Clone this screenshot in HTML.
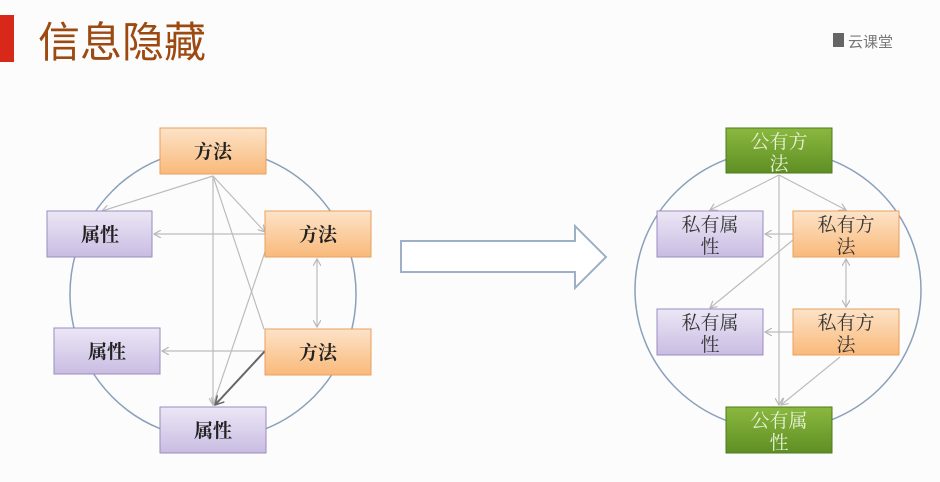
<!DOCTYPE html>
<html><head><meta charset="utf-8"><style>
body{margin:0;width:940px;height:482px;background:#fcfcfc;overflow:hidden}
svg{display:block}
text{font-family:"Liberation Serif","Noto Serif CJK SC",serif}
</style></head><body>
<svg width="940" height="482" viewBox="0 0 940 482" xmlns="http://www.w3.org/2000/svg">
<defs>
<linearGradient id="or" x1="0" y1="0" x2="0" y2="1"><stop offset="0" stop-color="#fde3c8"/><stop offset="1" stop-color="#f9b97a"/></linearGradient>
<linearGradient id="pu" x1="0" y1="0" x2="0" y2="1"><stop offset="0" stop-color="#ece7f6"/><stop offset="1" stop-color="#c9bce2"/></linearGradient>
<linearGradient id="gr" x1="0" y1="0" x2="0" y2="1"><stop offset="0" stop-color="#8ab83f"/><stop offset="1" stop-color="#5f8f24"/></linearGradient>
<marker id="ar" markerWidth="8" markerHeight="8" refX="7" refY="4" orient="auto-start-reverse" markerUnits="userSpaceOnUse"><path d="M0,0 L7,4 L0,8" fill="none" stroke="#b8b8b8" stroke-width="1.2"/></marker>
<marker id="ar2" markerWidth="10" markerHeight="10" refX="9" refY="5" orient="auto" markerUnits="userSpaceOnUse"><path d="M0,0 L9,5 L0,10" fill="none" stroke="#666" stroke-width="1.5"/></marker>
</defs>
<rect x="0" y="15" width="14" height="47" fill="#d8281a"/>
<text x="38" y="57" style="font-family:'Liberation Sans','Noto Sans CJK SC',sans-serif" font-size="42" fill="#9c4a12">信息隐藏</text>
<rect x="833" y="33" width="11" height="14" fill="#666"/>
<text x="848" y="47" style="font-family:'Liberation Sans','Noto Sans CJK SC',sans-serif" font-size="15" fill="#777">云课堂</text>

<!-- left -->
<ellipse cx="213" cy="294" rx="143" ry="145" fill="none" stroke="#8aa0bb" stroke-width="1.5"/>
<g stroke="#bcbcbc" stroke-width="1.2" fill="none">
<line x1="213" y1="176" x2="102" y2="211" marker-end="url(#ar)"/>
<line x1="265" y1="234" x2="154" y2="234" marker-end="url(#ar)"/>
<line x1="213" y1="176" x2="265" y2="232" marker-end="url(#ar)"/>
<line x1="213" y1="176" x2="213" y2="405" marker-end="url(#ar)"/>
<line x1="213" y1="176" x2="264" y2="329"/>
<line x1="265" y1="252" x2="213" y2="405" marker-end="url(#ar)"/>
<line x1="317" y1="259" x2="317" y2="327" marker-end="url(#ar)" marker-start="url(#ar)"/>
<line x1="265" y1="351" x2="162" y2="351" marker-end="url(#ar)"/>
</g>
<line x1="265" y1="351" x2="215" y2="405" stroke="#666" stroke-width="2" marker-end="url(#ar2)"/>
<g stroke-width="1">
<rect x="160" y="128" width="106" height="46" fill="url(#or)" stroke="#e8a060"/>
<rect x="47" y="211" width="105" height="46" fill="url(#pu)" stroke="#9a8cc0"/>
<rect x="265" y="211" width="106" height="46" fill="url(#or)" stroke="#e8a060"/>
<rect x="265" y="329" width="106" height="46" fill="url(#or)" stroke="#e8a060"/>
<rect x="54" y="328" width="106" height="46" fill="url(#pu)" stroke="#9a8cc0"/>
<rect x="160" y="407" width="106" height="46" fill="url(#pu)" stroke="#9a8cc0"/>
</g>
<g font-size="19" font-weight="bold" fill="#222" text-anchor="middle">
<text x="213" y="158">方法</text>
<text x="100" y="241">属性</text>
<text x="318" y="241">方法</text>
<text x="318" y="359">方法</text>
<text x="107" y="358">属性</text>
<text x="213" y="437">属性</text>
</g>

<!-- arrow -->
<path d="M401,241 L575,241 L575,226 L606,257 L575,288 L575,272 L401,272 Z" fill="#fff" stroke="#9db0c8" stroke-width="2"/>

<!-- right -->
<ellipse cx="778" cy="290" rx="143" ry="140" fill="none" stroke="#8aa0bb" stroke-width="1.5"/>
<g stroke="#bcbcbc" stroke-width="1.2" fill="none">
<line x1="779" y1="175" x2="710" y2="210" marker-end="url(#ar)"/>
<line x1="779" y1="175" x2="846" y2="210" marker-end="url(#ar)"/>
<line x1="779" y1="175" x2="779" y2="405" marker-end="url(#ar)"/>
<line x1="793" y1="234" x2="765" y2="234" marker-end="url(#ar)"/>
<line x1="793" y1="240" x2="710" y2="308" marker-end="url(#ar)"/>
<line x1="846" y1="259" x2="846" y2="307" marker-end="url(#ar)" marker-start="url(#ar)"/>
<line x1="793" y1="332" x2="765" y2="332" marker-end="url(#ar)"/>
<line x1="840" y1="357" x2="781" y2="405" marker-end="url(#ar)"/>
</g>
<g stroke-width="1">
<rect x="726" y="128" width="106" height="45" fill="url(#gr)" stroke="#4f7a1c"/>
<rect x="657" y="211" width="106" height="46" fill="url(#pu)" stroke="#9a8cc0"/>
<rect x="793" y="211" width="106" height="46" fill="url(#or)" stroke="#e8a060"/>
<rect x="657" y="309" width="106" height="46" fill="url(#pu)" stroke="#9a8cc0"/>
<rect x="793" y="309" width="106" height="46" fill="url(#or)" stroke="#e8a060"/>
<rect x="726" y="407" width="106" height="46" fill="url(#gr)" stroke="#4f7a1c"/>
</g>
<g font-size="19" text-anchor="middle">
<text x="779" y="148" fill="#e8f2d8">公有方</text>
<text x="779" y="170" fill="#e8f2d8">法</text>
<text x="710" y="231" fill="#333">私有属</text>
<text x="710" y="253" fill="#333">性</text>
<text x="846" y="231" fill="#333">私有方</text>
<text x="846" y="253" fill="#333">法</text>
<text x="710" y="329" fill="#333">私有属</text>
<text x="710" y="351" fill="#333">性</text>
<text x="846" y="329" fill="#333">私有方</text>
<text x="846" y="351" fill="#333">法</text>
<text x="779" y="427" fill="#e8f2d8">公有属</text>
<text x="779" y="449" fill="#e8f2d8">性</text>
</g>
</svg>
</body></html>
